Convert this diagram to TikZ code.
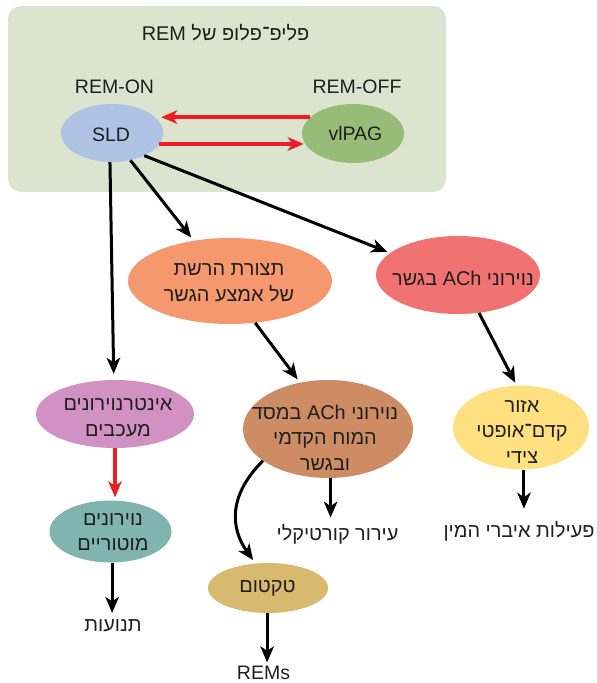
\documentclass[tikz,border=0pt]{standalone}
\usepackage{fontspec}
\setmainfont{Liberation Sans}
\newfontfamily\hebfont[Script=Hebrew,Scale=1.02]{Liberation Sans}
\TeXXeTstate=1
\usetikzlibrary{shapes.geometric,arrows.meta}
\newcommand\rl[1]{{\hebfont\beginR #1\endR}}
\newcommand\ltr[1]{\beginL #1\endL{}}
\definecolor{panelbg}{HTML}{DCE3CE}
\definecolor{sldblue}{HTML}{AFC3E5}
\definecolor{pagreen}{HTML}{96BC78}
\definecolor{retorange}{HTML}{F5986D}
\definecolor{achred}{HTML}{F07272}
\definecolor{inhpink}{HTML}{D291C3}
\definecolor{motorteal}{HTML}{80B4AF}
\definecolor{bfbrown}{HTML}{CD8C64}
\definecolor{lpoyellow}{HTML}{FEE081}
\definecolor{tectan}{HTML}{D7B96F}
\definecolor{arrowred}{HTML}{EB1E24}
\tikzset{
  blob/.style={ellipse, draw=none, inner sep=0pt},
  txt/.style={font=\fontsize{19.5pt}{25.5pt}\selectfont, align=center, inner sep=0pt, text=black!88},
  conn/.style={line width=3pt, draw=black, -{Stealth[length=16pt,width=13.5pt,inset=4.5pt]}},
  inhib/.style={conn, draw=arrowred, fill=arrowred, line width=3.8pt},
}
\begin{document}
\begin{tikzpicture}[x=1pt,y=-1pt]
\useasboundingbox (0,0) rectangle (597,683);
% REM flip-flop panel
\fill[panelbg, rounded corners=13pt] (8,6) rectangle (446,192);
\node[txt, anchor=base] (title) at (225.5,40.5) {\rl{פליפ־פלופ של \ltr{REM}}};
\node[txt, anchor=base] (remon) at (114.5,93) {REM-ON};
\node[txt, anchor=base] (remoff) at (357,93) {REM-OFF};

% ellipses
\node[blob, fill=sldblue, minimum width=102pt, minimum height=58pt] (sld) at (112,133) {};
\node[blob, fill=pagreen, minimum width=102pt, minimum height=59pt] (vlpag) at (353,133.5) {};
\node[blob, fill=retorange, minimum width=204pt, minimum height=86pt] (ret) at (230,281) {};
\node[blob, fill=achred, minimum width=164pt, minimum height=78pt] (achp) at (458,275) {};
\node[blob, fill=inhpink, minimum width=158pt, minimum height=68pt] (inh) at (115,414) {};
\node[blob, fill=motorteal, minimum width=122pt, minimum height=62pt] (mot) at (110.5,531.5) {};
\node[blob, fill=bfbrown, minimum width=170pt, minimum height=98pt] (bf) at (328,429) {};
\node[blob, fill=lpoyellow, minimum width=136pt, minimum height=84pt] (lpo) at (521,427.5) {};
\node[blob, fill=tectan, minimum width=120pt, minimum height=50pt] (tec) at (268,588) {};

% texts in the ellipses
\node[txt, anchor=base] (sld-t) at (111,141) {SLD};
\node[txt, anchor=base] (vlpag-t) at (355.5,140) {vlPAG};
\node[txt] (ret-t) at (229,283) {\rl{תצורת הרשת}\\\rl{של אמצע הגשר}};
\node[txt] (achp-t) at (463,278.5) {\rl{נוירוני \ltr{ACh} בגשר}};
\node[txt] (inh-t) at (118,417.5) {\rl{אינטרנוירונים}\\\rl{מעכבים}};
\node[txt] (mot-t) at (113,532) {\rl{נוירונים}\\\rl{מוטוריים}};
\node[txt] (bf-t) at (325,437.5) {\rl{נוירוני \ltr{ACh} במסד}\\\rl{המוח הקדמי}\\\rl{ובגשר}};
\node[txt] (lpo-t) at (522,431.5) {\rl{אזור}\\\rl{קדם־אופטי}\\\rl{צידי}};
\node[txt] (tec-t) at (267.5,588.5) {\rl{טקטום}};

% free-standing outcomes
\node[txt, anchor=base] (cort) at (337.5,540) {\rl{עירור קורטיקלי}};
\node[txt, anchor=base] (sex) at (519,537) {\rl{פעילות איברי המין}};
\node[txt, anchor=base] (mov) at (113,631) {\rl{תנועות}};
\node[txt, anchor=base] (rems) at (263.5,679) {REMs};

% mutual inhibition
\draw[inhib, shorten >=-2pt] (vlpag.159) -- (vlpag.159 -| sld.east);
\draw[inhib, shorten >=-2pt] (sld.-13) -- (sld.-13 -| vlpag.west);

% excitatory / output pathways
\draw[conn, shorten >=4pt] (sld.-56) -- (ret.132);
\draw[conn, shorten >=3pt] (sld.-35) -- (achp.162);
\draw[conn, shorten >=6pt] (sld.-94) -- (inh.92);
\draw[conn, shorten >=4pt] (ret.-59) -- (bf.121);
\draw[conn, shorten >=3pt] (achp.-61) -- (lpo.96);
\draw[inhib, shorten >=3pt] (inh.south) -- (inh.south |- mot.north);
\draw[conn, shorten >=6pt] (bf.-87) -- (bf.-87 |- cort.north);
\draw[conn, shorten >=12pt] (lpo.-86) -- (lpo.-86 |- sex.north);
\draw[conn, shorten >=6pt] (mot.-87) -- (mot.-87 |- mov.north);
\draw[conn, shorten >=3pt] (tec.-92) -- (tec.-92 |- rems.north);
\draw[conn, shorten >=4pt] (bf.-154) .. controls +(-35,35) and +(-25,-35) .. (tec.117);
\end{tikzpicture}
\end{document}
